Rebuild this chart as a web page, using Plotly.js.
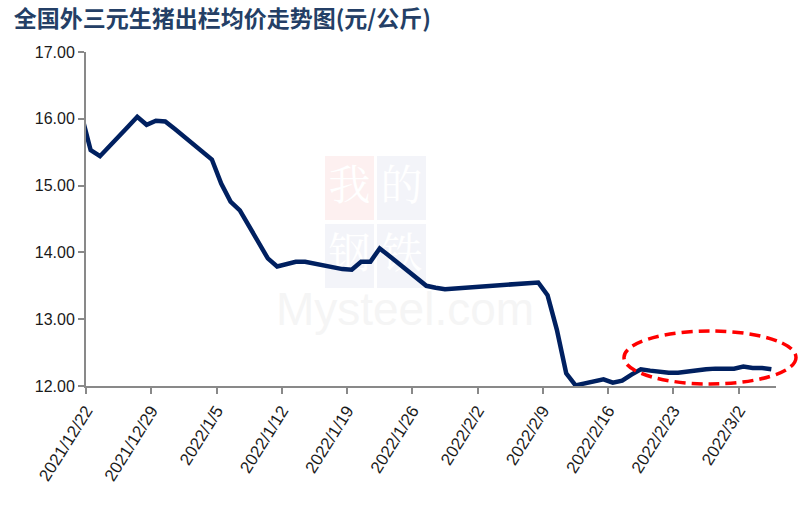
<!DOCTYPE html>
<html>
<head>
<meta charset="utf-8">
<script src="https://cdn.plot.ly/plotly-3.0.1.min.js"></script>
<style>html,body{margin:0;padding:0;background:#fff;}#chart{width:804px;height:509px;}</style>
</head>
<body>
<div id="chart"></div>
<script>
// Daily prices (元/公斤); each value sits in the middle of its day
var dates = [
  "2021-12-21","2021-12-22","2021-12-23","2021-12-24","2021-12-25","2021-12-26","2021-12-27","2021-12-28","2021-12-29","2021-12-30","2021-12-31",
  "2022-01-01","2022-01-02","2022-01-03","2022-01-04","2022-01-05","2022-01-06","2022-01-07","2022-01-08","2022-01-09","2022-01-10",
  "2022-01-11","2022-01-12","2022-01-13","2022-01-14","2022-01-15","2022-01-16","2022-01-17","2022-01-18","2022-01-19","2022-01-20",
  "2022-01-21","2022-01-22","2022-01-23","2022-01-24","2022-01-25","2022-01-26","2022-01-27","2022-01-28","2022-01-29",
  "2022-02-08","2022-02-09","2022-02-10","2022-02-11","2022-02-12","2022-02-13","2022-02-14","2022-02-15","2022-02-16","2022-02-17",
  "2022-02-18","2022-02-19","2022-02-20","2022-02-21","2022-02-22","2022-02-23","2022-02-24","2022-02-25","2022-02-26","2022-02-27",
  "2022-02-28","2022-03-01","2022-03-02","2022-03-03","2022-03-04","2022-03-05"
];
var prices = [
  16.07,15.53,15.44,15.58,15.73,15.88,16.03,15.91,15.97,15.96,15.85,
  15.74,15.62,15.51,15.39,15.03,14.76,14.63,14.40,14.15,13.91,
  13.79,13.83,13.86,13.86,13.83,13.80,13.77,13.75,13.74,13.86,
  13.86,14.06,13.95,13.84,13.72,13.61,13.50,13.47,13.45,
  13.55,13.36,12.84,12.19,12.01,12.04,12.07,12.10,12.05,12.08,
  12.17,12.25,12.23,12.21,12.20,12.20,12.22,12.24,12.25,12.26,
  12.26,12.26,12.29,12.27,12.27,12.25
];
var tickDates = ["2021-12-22","2021-12-29","2022-01-05","2022-01-12","2022-01-19","2022-01-26","2022-02-02","2022-02-09","2022-02-16","2022-02-23","2022-03-02"];
var tickLabels = ["2021/12/22","2021/12/29","2022/1/5","2022/1/12","2022/1/19","2022/1/26","2022/2/2","2022/2/9","2022/2/16","2022/2/23","2022/3/2"];
var yTicks = [12,13,14,15,16,17];

var xs = dates.map(function(d){ return d + " 12:00"; });

var trace = {
  x: xs, y: prices, type: "scatter", mode: "lines",
  line: {color: "#002060", width: 4.5, shape: "linear"},
  hoverinfo: "x+y"
};

var axisColor = "#898989";

// helpers for pixel -> paper fractions (plot area 86..776 x 52..386)
function px(x){ return (x - 86) / 690; }
function py(y){ return (386 - y) / 334; }

var wmFont = {family: "Noto Serif CJK SC, Noto Sans CJK SC, serif", size: 42, color: "#ffffff"};
function wmBox(x0, y0, x1, y1, fill, ch){
  return {type: "rect", xref: "paper", yref: "paper", layer: "below",
    x0: px(x0), x1: px(x1), y0: py(y1), y1: py(y0),
    fillcolor: fill, line: {width: 0},
    label: {text: ch, font: wmFont, textposition: "middle center"}};
}

var layout = {
  width: 804, height: 509,
  margin: {l: 86, r: 28, t: 52, b: 123, pad: 0},
  paper_bgcolor: "#ffffff", plot_bgcolor: "rgba(0,0,0,0)",
  showlegend: false,
  title: {
    text: "<b>全国外三元生猪出栏均价走势图(元/公斤)</b>",
    x: 0.017, xref: "container", xanchor: "left",
    y: 0.963, yref: "container", yanchor: "middle",
    font: {family: "Noto Sans CJK SC, sans-serif", size: 23, color: "#243F66"}
  },
  xaxis: {
    type: "date",
    range: ["2021-12-22", "2022-03-06"],
    tickmode: "array", tickvals: tickDates, ticktext: tickLabels,
    tickangle: -58,
    tickfont: {family: "Liberation Sans, Arial, sans-serif", size: 17, color: "#1a1a1a"},
    showline: true, linecolor: axisColor, linewidth: 2,
    ticks: "outside", ticklen: 6, tickwidth: 2, tickcolor: axisColor,
    showgrid: false, zeroline: false, fixedrange: true
  },
  yaxis: {
    range: [12, 17],
    tickmode: "array", tickvals: yTicks, tickformat: ".2f",
    tickfont: {family: "Liberation Sans, Arial, sans-serif", size: 16, color: "#1a1a1a"},
    showline: true, linecolor: axisColor, linewidth: 2,
    ticks: "outside", ticklen: 6, tickwidth: 2, tickcolor: axisColor,
    showgrid: false, zeroline: false, fixedrange: true
  },
  shapes: [
    // faint watermark (drawn below the data line)
    {type: "rect", xref: "paper", yref: "paper", layer: "below",
     x0: px(280), x1: px(530), y0: py(335), y1: py(275),
     fillcolor: "rgba(0,0,0,0)", line: {width: 0},
     label: {text: "Mysteel.com", textposition: "middle center",
             font: {family: "Liberation Sans, Arial, sans-serif", size: 46, color: "#f5f5f5"}}},
    wmBox(325, 156, 374, 220, "#fdf0f0", "我"),
    wmBox(377, 156, 426, 220, "#f3f4f9", "的"),
    wmBox(325, 224, 374, 288, "#f3f4f9", "钢"),
    wmBox(377, 224, 426, 288, "#f3f4f9", "铁"),
    // red dashed ellipse highlight
    {type: "circle", xref: "paper", yref: "paper", layer: "above",
     x0: px(624), x1: px(796), y0: py(384), y1: py(331),
     line: {color: "#ff0000", width: 3.5, dash: "11px,6px"}, fillcolor: "rgba(0,0,0,0)"}
  ]
};

Plotly.newPlot("chart", [trace], layout, {staticPlot: true, displayModeBar: false});
</script>
</body>
</html>
